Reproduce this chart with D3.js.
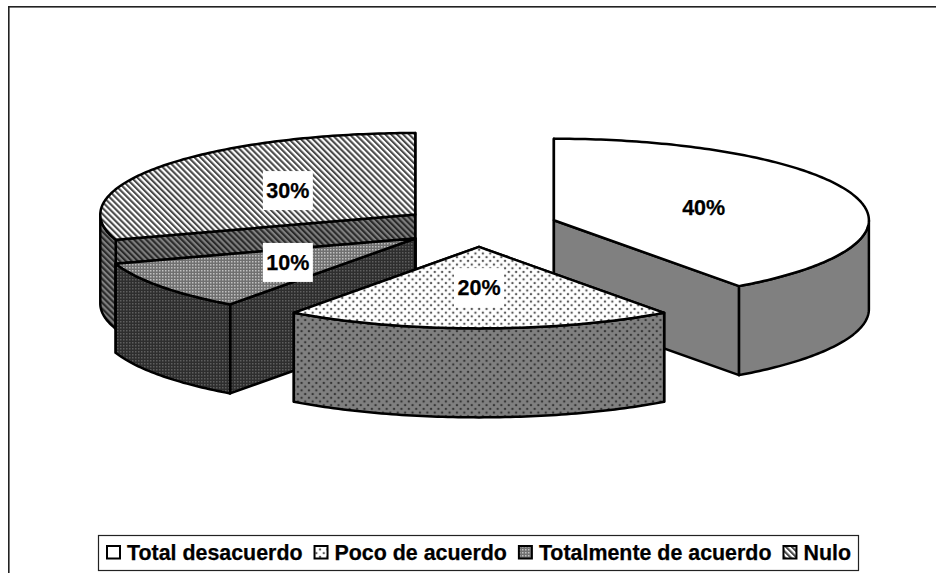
<!DOCTYPE html>
<html>
<head>
<meta charset="utf-8">
<script src="https://cdn.jsdelivr.net/npm/d3@7"></script>
<style>
html,body{margin:0;padding:0;background:#fff;}
svg{display:block;}
text{font-family:"Liberation Sans",Arial,sans-serif;font-weight:bold;fill:#000;stroke:#000;stroke-width:0.25px;}
</style>
</head>
<body>
<div id="chart"></div>
<script>
"use strict";

var categories=["Total desacuerdo","Poco de acuerdo","Totalmente de acuerdo","Nulo"];
var values=[40,20,10,30];
var labels=["40%","20%","10%","30%"];

var w=936, h=573;
var cx=479, cy=226.5, rx=315, ry=81.5, depth=89, explode=0.25;
var label_w=50, label_h=39, label_size=21.5, legend_size=21.4, edge_w=2.5;

var svg=d3.select("#chart").append("svg")
    .attr("width",w)
    .attr("height",h);
var defs=svg.append("defs");

// pattern helpers, fill ids are top_N and side_N
function dots(id,bg,fg){
    var p=defs.append("pattern").attr("id",id).attr("patternUnits","userSpaceOnUse")
        .attr("width",7.4).attr("height",7.4);
    p.append("rect").attr("width",7.4).attr("height",7.4).attr("fill",bg);
    p.append("circle").attr("cx",1.85).attr("cy",1.85).attr("r",1.2).attr("fill",fg);
    p.append("circle").attr("cx",5.55).attr("cy",5.55).attr("r",1.2).attr("fill",fg);
}
function checks(id,bg,fg){
    var p=defs.append("pattern").attr("id",id).attr("patternUnits","userSpaceOnUse")
        .attr("width",3).attr("height",3);
    p.append("rect").attr("width",3).attr("height",3).attr("fill",bg);
    p.append("rect").attr("width",1.5).attr("height",1.5).attr("fill",fg);
}
function stripes(id,bg,fg){
    var p=defs.append("pattern").attr("id",id).attr("patternUnits","userSpaceOnUse")
        .attr("width",4.2).attr("height",4.2).attr("patternTransform","rotate(-45)");
    p.append("rect").attr("width",4.2).attr("height",4.2).attr("fill",bg);
    p.append("rect").attr("width",2.1).attr("height",4.2).attr("fill",fg);
}
dots("top_1","#fff","#5a5a5a");
dots("side_1","#808080","#363636");
checks("top_2","#707070","#c0c0c0");
checks("side_2","#2e2e2e","#5e5e5e");
stripes("top_3","#fff","#4a4a4a");
stripes("side_3","#808080","#2a2a2a");

var fills=[
    {top:"#fff",side:"#808080"},
    {top:"url(#top_1)",side:"url(#side_1)"},
    {top:"url(#top_2)",side:"url(#side_2)"},
    {top:"url(#top_3)",side:"url(#side_3)"}
];

// frame, only top and left show up
svg.append("rect").attr("x",8).attr("y",6).attr("width",w-8).attr("height",1.6).attr("fill","#222");
svg.append("rect").attr("x",8).attr("y",6).attr("width",1.6).attr("height",h-6).attr("fill","#222");

var pie=d3.pie().sort(null).value(function(d){return d;});
var arcs=pie(values);

var line=d3.line().x(function(d){return d[0];}).y(function(d){return d[1];});

function rim(a,c,dy){
    return [c.x+rx*Math.sin(a), c.y+ry*-Math.cos(a)+(dy||0)];
}
function sweep(a0,a1,c,dy){
    var n=Math.max(2,Math.ceil((a1-a0)*60));
    return d3.range(n+1).map(function(i){
        return rim(a0+(a1-a0)*i/n,c,dy);
    });
}
function centre(d){
    var mid=(d.startAngle+d.endAngle)/2;
    return {x:cx+rx*explode*Math.sin(mid), y:cy-ry*explode*Math.cos(mid)};
}
function face(g,pts,fill){
    g.append("path").attr("d",line(pts)+"Z").attr("fill",fill)
        .attr("stroke","#000").attr("stroke-width",edge_w).attr("stroke-linejoin","round");
}

function draw_slice(g,d,i){
    var c=centre(d);
    var f=fills[i];
    // the cut face further back goes first
    var cuts=[d.startAngle,d.endAngle].sort(function(a,b){
        return rim(a,c)[1]-rim(b,c)[1];
    });
    cuts.forEach(function(a){
        var r=rim(a,c);
        face(g,[[c.x,c.y],r,[r[0],r[1]+depth],[c.x,c.y+depth]],f.side);
    });
    var a0=Math.max(d.startAngle,Math.PI/2), a1=Math.min(d.endAngle,Math.PI*1.5);
    if(a1>a0){
        face(g,sweep(a0,a1,c,0).concat(sweep(a0,a1,c,depth).reverse()),f.side);
    }
    face(g,[[c.x,c.y]].concat(sweep(d.startAngle,d.endAngle,c,0)),f.top);
}

// back to front
[3,2,0,1].forEach(function(i){
    draw_slice(svg.append("g"),arcs[i],i);
});

// data labels sit half way along the bisector
arcs.forEach(function(d,i){
    var c=centre(d);
    var mid=(d.startAngle+d.endAngle)/2;
    var x=c.x+rx*0.5*Math.sin(mid), y=c.y-ry*0.5*Math.cos(mid);
    svg.append("rect").attr("x",x-label_w/2).attr("y",y-label_h/2)
        .attr("width",label_w).attr("height",label_h).attr("fill","#fff");
    svg.append("text").attr("x",x).attr("y",y+label_size*0.35)
        .attr("text-anchor","middle").style("font-size",label_size+"px").text(labels[i]);
});

// legend
var legend=svg.append("g");
legend.append("rect").attr("x",98.5).attr("y",535.5).attr("width",760).attr("height",35)
    .attr("fill","#fff").attr("stroke","#222").attr("stroke-width",1.2);
var lx=107;
categories.forEach(function(name,i){
    legend.append("rect").attr("x",lx).attr("y",546).attr("width",13).attr("height",12.5)
        .attr("fill",fills[i].top).attr("stroke","#000").attr("stroke-width",2);
    var t=legend.append("text").attr("x",lx+20).attr("y",559.5)
        .style("font-size",legend_size+"px").text(name);
    lx+=20+t.node().getComputedTextLength()+12;
});
</script>
</body>
</html>
